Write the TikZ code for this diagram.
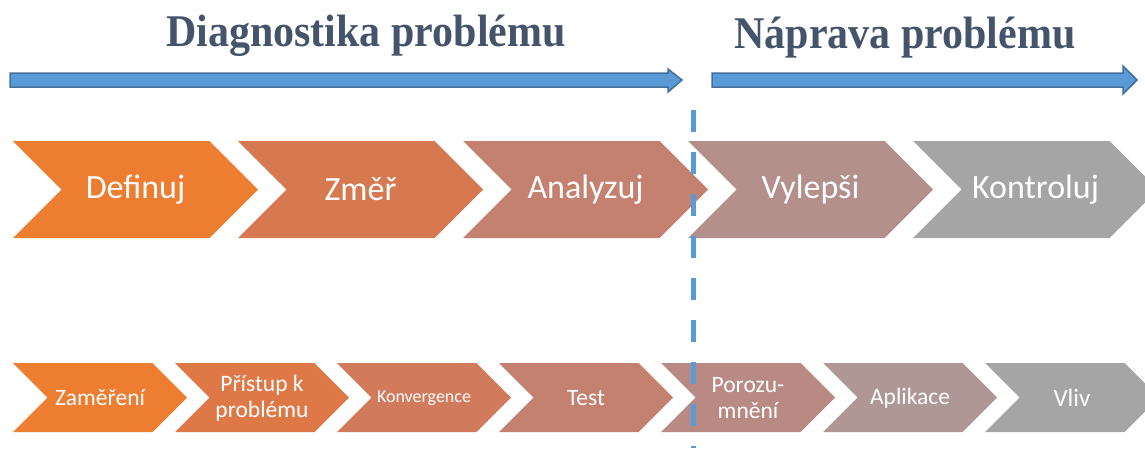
\documentclass[tikz,border=0pt]{standalone}
\usepackage{fontspec}
\setmainfont{Liberation Serif}
\newfontfamily\calib{Carlito}
\definecolor{titlec}{HTML}{44546A}
\definecolor{arrowf}{HTML}{5B9BD5}
\definecolor{arrowd}{HTML}{41719C}
% top row, orange to grey
\definecolor{ta}{RGB}{237,125,49}
\definecolor{tb}{RGB}{215,121,80}
\definecolor{tc}{RGB}{197,129,112}
\definecolor{td}{RGB}{180,144,140}
\definecolor{te}{RGB}{165,165,165}
% bottom row
\definecolor{ba}{RGB}{237,125,49}
\definecolor{bb}{RGB}{222,121,71}
\definecolor{bc}{RGB}{209,123,92}
\definecolor{bd}{RGB}{197,129,112}
\definecolor{be}{RGB}{185,138,131}
\definecolor{bf}{RGB}{175,151,149}
\definecolor{bg}{RGB}{165,165,165}
\tikzset{
  titletxt/.style={anchor=base,text=titlec,font=\bfseries\fontsize{42}{42}\selectfont},
  bluearr/.style={fill=arrowf,draw=arrowd,line width=1.5pt,line join=miter},
  divider/.style={draw=arrowf,line width=5pt,dash pattern=on 22pt off 20pt},
  chevtxt/.style={text=white,align=center,inner sep=0pt}
}
\begin{document}
\begin{tikzpicture}[x=1pt,y=-1pt]
\useasboundingbox (0,0) rectangle (1145,448);
\clip (0,0) rectangle (1145,448);
\node[titletxt] (diag) at (366,46) {\scalebox{1}[1.08]{Diagnostika problému}};
\node[titletxt] (naprava) at (905,48) {\scalebox{1}[1.08]{Náprava problému}};
\draw[bluearr](10,73)--(668,73)--(668,69)--(682,80)--(668,92)--(668,87)--(10,87)--cycle;
\draw[bluearr](712,73)--(1123,73)--(1123,66)--(1137,80)--(1123,94)--(1123,87)--(712,87)--cycle;
% top row
\pgfmathsetmacro{\tw}{245}
\pgfmathsetmacro{\td}{48.5}
\foreach \i/\c/\txt in {0/ta/Definuj,1/tb/Změř,2/tc/Analyzuj,3/td/Vylepši,4/te/Kontroluj}{
  \pgfmathsetmacro{\xl}{13+225*\i}
  \fill[\c](\xl,141)--++(\tw-\td,0)--++(\td,\td)--++(-\td,\td)--++(-\tw+\td,0)--++(\td,-\td)--cycle;
  \node[chevtxt,font=\calib\fontsize{34}{34}\selectfont] (top\i) at (\xl+\tw/2,189.5) {\txt};
}
% bottom row
\pgfmathsetmacro{\bw}{174}
\pgfmathsetmacro{\bd}{34.5}
\foreach \i/\c/\fs/\txt in {0/ba/23.5/Zaměření,1/bb/23.5/{Přístup k\\problému},2/bc/18/Konvergence,3/bd/23.5/Test,4/be/23.5/{Porozu-\\mnění},5/bf/23.5/Aplikace,6/bg/25/Vliv}{
  \pgfmathsetmacro{\xl}{13+162*\i}
  \fill[\c](\xl,363)--++(\bw-\bd,0)--++(\bd,\bd)--++(-\bd,\bd)--++(-\bw+\bd,0)--++(\bd,-\bd)--cycle;
  \node[chevtxt,font=\calib\fontsize{\fs}{26}\selectfont] (bot\i) at (\xl+\bw/2,398) {\txt};
}
\draw[divider](693,110)--(693,448);
\end{tikzpicture}
\end{document}
